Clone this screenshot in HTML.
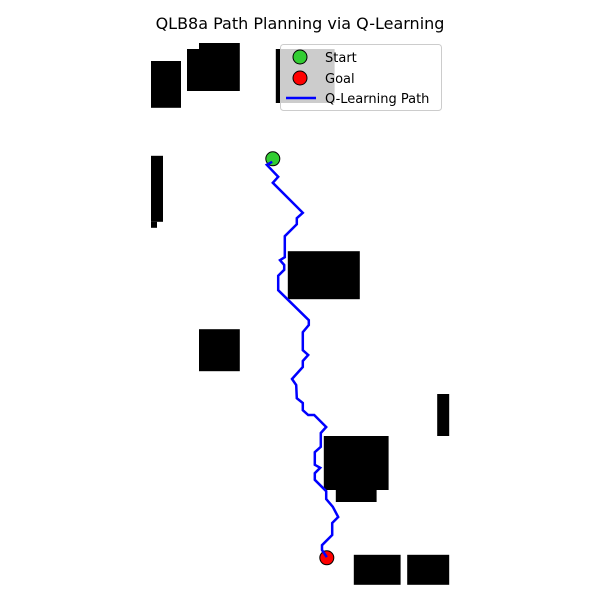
<!DOCTYPE html>
<html><head><meta charset="utf-8"><style>
body{margin:0;background:#fff}
svg{display:block;font-family:"DejaVu Sans","Liberation Sans",sans-serif}
</style></head><body>
<svg id="chart" width="600" height="600">
<text x="300" y="29" text-anchor="middle" font-size="16" fill="#000">QLB8a Path Planning via Q-Learning</text>
<g id="obs"></g>
<g id="pathg"></g>
<g id="legend">
<rect x="280.5" y="44.5" width="161" height="66" rx="3" fill="rgba(255,255,255,0.8)" stroke="#ccc"/>
<circle cx="300" cy="57" r="7" fill="#32cd32" stroke="#000"/>
<text x="325" y="62" font-size="13">Start</text>
<circle cx="300" cy="78" r="7" fill="#ff0000" stroke="#000"/>
<text x="325" y="83" font-size="13">Goal</text>
<line x1="286" y1="98" x2="316" y2="98" stroke="#0000ff" stroke-width="2.5"/>
<text x="325" y="103" font-size="13">Q-Learning Path</text>
</g>
</svg>
<script>
// grid units (cells of 6px), origin at plot top-left
const obstacles=[[0,3,5,7.8],[6,1,8.8,7],[8,0,6.8,1],[20.8,1,9.8,9],[0,18.8,2,11],[0,29.8,1,1],[22.8,34.7,12,8],[8,47.7,6.8,7],[47.7,58.5,2,7],[28.8,65.5,10.8,9],[30.8,74.5,6.8,2],[33.8,85.3,7.8,5],[42.7,85.3,7,5]];
const pathX=[20.2,19.3,21.2,20.3,25.3,24.3,24.3,22.3,22.3,21.5,22.2,22.2,21.2,21.2,26.3,26.3,25.3,25.3,26.2,25.3,25.3,23.5,24.2,24.3,25.3,25.3,26.2,27.2,29.2,28.3,28.3,27.3,27.3,28.2,27.3,27.3,29.2,29.2,30.3,31.2,30.2,30.2,28.5,28.5,29.3];
const pathY=[19.8,20.3,22.3,23.3,28.3,29.2,30.2,32.2,35.7,36.2,37,37.8,38.8,41.2,46.2,47,48.2,51.2,52,53,54,56,57,59.2,60,61.2,62,62,64,65,67.3,68.2,70.3,70.8,71.7,72.8,74.7,76,77.3,79,80,82,83.7,84.5,85.7];
const start=[20.3,19.3];
const goal=[29.3,85.8];
const sx=v=>151+v*6, sy=v=>43+v*6;
const NS="http://www.w3.org/2000/svg";
const og=document.getElementById('obs');
obstacles.forEach(o=>{
 const r=document.createElementNS(NS,'rect');
 r.setAttribute('x',sx(o[0]));r.setAttribute('y',sy(o[1]));
 r.setAttribute('width',o[2]*6);r.setAttribute('height',o[3]*6);r.setAttribute('fill','#000');
 
 
 og.appendChild(r);
});
const pg=document.getElementById('pathg');
const pl=document.createElementNS(NS,'polyline');
pl.setAttribute('points',pathX.map((x,i)=>sx(x)+','+sy(pathY[i])).join(' '));
pl.setAttribute('fill','none');pl.setAttribute('stroke','#0000ff');pl.setAttribute('stroke-width','2.5');


pg.appendChild(pl);
[[start,'#32cd32','start-marker'],[goal,'#ff0000','goal-marker']].forEach(m=>{
 const c=document.createElementNS(NS,'circle');
 c.setAttribute('cx',sx(m[0][0]));c.setAttribute('cy',sy(m[0][1]));c.setAttribute('r',7);
 c.setAttribute('fill',m[1]);c.setAttribute('stroke','#000');
 
 
 pg.insertBefore(c,pl);
});
</script>
</body></html>
